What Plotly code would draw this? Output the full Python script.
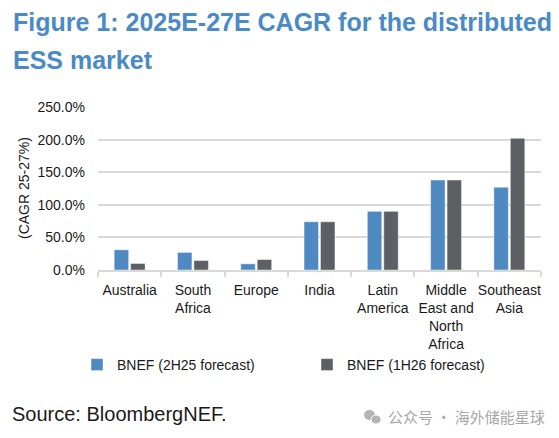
import plotly.graph_objects as go

# data (CAGR 2025E-27E, %)
regions = ["Australia", "South<br>Africa", "Europe", "India", "Latin<br>America",
           "Middle<br>East and<br>North<br>Africa", "Southeast<br>Asia"]
cagr_2h25 = [31, 27, 9.5, 74, 90, 138, 127]
cagr_1h26 = [10, 14.5, 16, 74, 90, 138, 202]
y_ticks = [0, 50, 100, 150, 200, 250]
y_ticktext = [f"{v:.1f}%" for v in y_ticks]

FONT = "Liberation Sans, Arial, sans-serif"
BLUE = "#4E8AC1"
GREY = "#5E5F64"
GRID = "#D9D9D9"

# the page body adds an 8px margin, so the figure is drawn 8px smaller / shifted
OFF = 8
W, H = 559 - OFF, 438 - OFF
L, R, T, B = 98 - OFF, 18, 107 - OFF, 168
pw, ph = W - L - R, H - T - B


# helpers to place annotations by pixel position in the 559x438 window
def px_x(x):
    return (x - OFF - L) / pw


def px_y(y):
    return (H - B - (y - OFF)) / ph


fig = go.Figure()
fig.add_trace(go.Bar(x=regions, y=cagr_2h25, name="BNEF (2H25 forecast)",
                     marker=dict(color=BLUE, line=dict(color="rgba(255,255,255,0.45)", width=1))))
fig.add_trace(go.Bar(x=regions, y=cagr_1h26, name="BNEF (1H26 forecast)",
                     marker=dict(color=GREY, line=dict(color="rgba(255,255,255,0.45)", width=1))))

fig.update_layout(
    width=W, height=H,
    margin=dict(l=L, r=R, t=T, b=B),
    paper_bgcolor="white", plot_bgcolor="white",
    font=dict(family=FONT, size=14, color="#1A1A1A"),
    barmode="group", bargap=0.48, bargroupgap=0.12,
    legend=dict(orientation="h", x=px_x(77), xanchor="left", y=px_y(365), yanchor="middle",
                entrywidth=185, entrywidthmode="pixels", font=dict(size=14),
                bgcolor="rgba(0,0,0,0)"),
    showlegend=True,
)

fig.update_xaxes(type="category", tickson="boundaries", ticks="outside", ticklen=5,
                 tickcolor=GRID, tickwidth=1.5, showline=True, linecolor=GRID, linewidth=1.5,
                 showgrid=False, tickangle=0, automargin=False, ticklabelstandoff=6,
                 tickfont=dict(size=14))
fig.update_yaxes(range=[0, 250], tickvals=y_ticks, ticktext=y_ticktext,
                 showgrid=True, gridcolor=GRID, gridwidth=1.5, zeroline=False,
                 showline=False, ticks="", ticklabelstandoff=12, automargin=False,
                 tickfont=dict(size=14))

# title, two lines placed separately
title_font = dict(family=FONT, size=25, color="#4A8AC6", weight="bold")
fig.add_annotation(text="Figure 1: 2025E-27E CAGR for the distributed", x=px_x(11), y=px_y(22),
                   xref="paper", yref="paper", xanchor="left", yanchor="middle",
                   showarrow=False, font=title_font)
fig.add_annotation(text="ESS market", x=px_x(11), y=px_y(60),
                   xref="paper", yref="paper", xanchor="left", yanchor="middle",
                   showarrow=False, font=title_font)

# y axis title
fig.add_annotation(text="(CAGR 25-27%)", textangle=-90, x=px_x(24), y=px_y(188),
                   xref="paper", yref="paper", xanchor="center", yanchor="middle",
                   showarrow=False, font=dict(size=14))

# source line
fig.add_annotation(text="Source: BloombergNEF.", x=px_x(10), y=px_y(414),
                   xref="paper", yref="paper", xanchor="left", yanchor="middle",
                   showarrow=False, font=dict(size=20))

# watermark
fig.add_annotation(text="公众号 · 海外储能星球", x=px_x(386), y=px_y(416),
                   xref="paper", yref="paper", xanchor="left", yanchor="middle",
                   showarrow=False, font=dict(family="Noto Sans CJK SC", size=15, color="#A8A8A8"))
fig.add_shape(type="circle", xref="paper", yref="paper",
              x0=px_x(364), x1=px_x(375), y0=px_y(420), y1=px_y(410),
              fillcolor="#B4B4B4", line=dict(width=0))
fig.add_shape(type="circle", xref="paper", yref="paper",
              x0=px_x(371), x1=px_x(381), y0=px_y(424), y1=px_y(415),
              fillcolor="#B4B4B4", line=dict(color="white", width=1))

fig.write_html("out.html")
